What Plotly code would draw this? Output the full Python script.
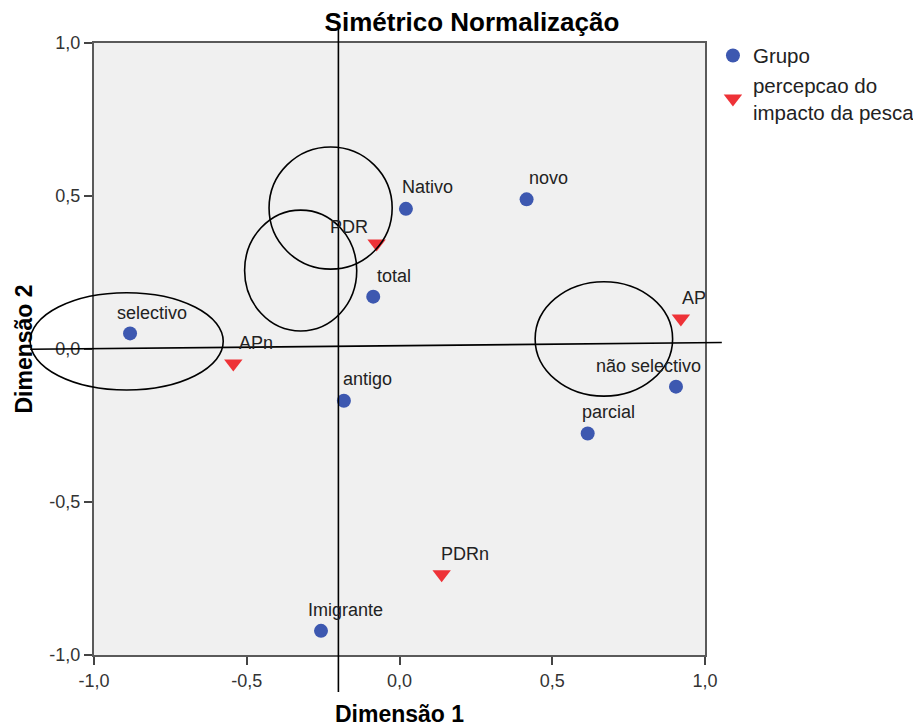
import plotly.graph_objects as go

# ---------------- data ----------------
grupo_labels = ["selectivo", "Nativo", "novo", "total", "não selectivo", "parcial", "antigo", "Imigrante"]
grupo_dim1 = [-0.882, 0.021, 0.416, -0.086, 0.905, 0.616, -0.182, -0.257]
grupo_dim2 = [0.051, 0.458, 0.489, 0.171, -0.123, -0.276, -0.169, -0.921]

perc_labels = ["APn", "PDR", "AP", "PDRn"]
perc_dim1 = [-0.544, -0.075, 0.921, 0.138]
perc_dim2 = [-0.047, 0.345, 0.100, -0.736]

tick_vals = [-1.0, -0.5, 0.0, 0.5, 1.0]
tick_text = ["-1,0", "-0,5", "0,0", "0,5", "1,0"]

# ---------------- styling ----------------
FONT = "Liberation Sans, Arial, sans-serif"
BLUE = "#3d58b0"
RED = "#ee3237"
X_RANGE = [-1.0, 1.0]
Y_RANGE = [-1.0, 1.0]
# the page body has an 8px margin, so the figure is 8px smaller than the window
W, H = 913, 719

# label placement (pixel offsets of label edge / baseline relative to the point)
label_offsets = {
    "selectivo": (-14, -13, "left"), "Nativo": (-5, -15, "left"), "novo": (1, -14, "left"),
    "total": (3, -13, "left"), "não selectivo": (26, -13, "right"), "parcial": (-7, -14, "left"),
    "antigo": (-2, -15, "left"), "Imigrante": (-14, -14, "left"), "APn": (5, -13, "left"),
    "PDR": (-8, -9, "right"), "AP": (0, -13, "left"), "PDRn": (-2, -13, "left"),
}

fig = go.Figure()
fig.add_trace(go.Scatter(x=grupo_dim1, y=grupo_dim2, mode="markers", name="Grupo",
                         marker=dict(symbol="circle", size=14, color=BLUE), hoverinfo="text",
                         text=grupo_labels))
fig.add_trace(go.Scatter(x=perc_dim1, y=perc_dim2, mode="markers", name="percepcao do<br>impacto da pesca",
                         marker=dict(symbol="triangle-down", size=16, color=RED), hoverinfo="text",
                         text=perc_labels))

LABEL_FS = 18
for labs, xs, ys in ((grupo_labels, grupo_dim1, grupo_dim2), (perc_labels, perc_dim1, perc_dim2)):
    for lab, xv, yv in zip(labs, xs, ys):
        dx, dy, anc = label_offsets[lab]
        fig.add_annotation(x=xv, y=yv, text=lab, showarrow=False, xanchor=anc, yanchor="bottom",
                           xshift=dx, yshift=-dy - 0.212 * LABEL_FS, borderpad=0,
                           font=dict(family=FONT, size=LABEL_FS, color="#222222"))

# hand-drawn overlay marks (in data units, converted to paper so they are not clipped)
def xp(v):
    return (v - X_RANGE[0]) / (X_RANGE[1] - X_RANGE[0])

def yp(v):
    return (v - Y_RANGE[0]) / (Y_RANGE[1] - Y_RANGE[0])

lines = [(-0.200, 1.048, -0.200, -1.121), (-1.209, -0.001, 1.055, 0.021)]
ellipses = [(-1.209, -0.577, -0.134, 0.184), (-0.427, -0.024, 0.261, 0.660),
            (-0.507, -0.140, 0.059, 0.454), (0.444, 0.894, -0.154, 0.220)]
for x0, y0, x1, y1 in lines:
    fig.add_shape(type="line", xref="paper", yref="paper", x0=xp(x0), y0=yp(y0), x1=xp(x1), y1=yp(y1),
                  line=dict(color="black", width=1.6), layer="above")
for x0, x1, y0, y1 in ellipses:
    fig.add_shape(type="circle", xref="paper", yref="paper", x0=xp(x0), x1=xp(x1), y0=yp(y0), y1=yp(y1),
                  line=dict(color="black", width=1.6), layer="above")

axis_common = dict(range=X_RANGE, tickvals=tick_vals, ticktext=tick_text, showgrid=False, zeroline=False,
                   showline=True, mirror=True, linecolor="#5a5a5a", linewidth=2, ticks="outside",
                   ticklen=8, tickcolor="#444444", tickwidth=2, automargin=False,
                   tickfont=dict(family=FONT, size=18, color="#333333"))

fig.update_layout(
    width=W, height=H,
    margin=dict(l=86, r=216, t=35, b=72, autoexpand=False),
    paper_bgcolor="white", plot_bgcolor="#f0f0f0",
    title=dict(text="Simétrico Normalização", x=464 / W, xref="container", xanchor="center",
               y=1 - 14 / H, yref="container", yanchor="middle",
               font=dict(family=FONT, size=26, color="black", weight="bold")),
    xaxis=dict(axis_common, title=dict(text="Dimensão 1", standoff=17,
                                        font=dict(family=FONT, size=23, color="black", weight="bold"))),
    yaxis=dict(axis_common, range=Y_RANGE,
               title=dict(text="Dimensão 2", standoff=10,
                          font=dict(family=FONT, size=23, color="black", weight="bold"))),
    legend=dict(x=1.013, y=1.012, xanchor="left", yanchor="top", bgcolor="rgba(0,0,0,0)",
                font=dict(family=FONT, size=20.5, color="#222222"), itemwidth=30, tracegroupgap=0),
    showlegend=True,
)

fig.write_html("out.html")
